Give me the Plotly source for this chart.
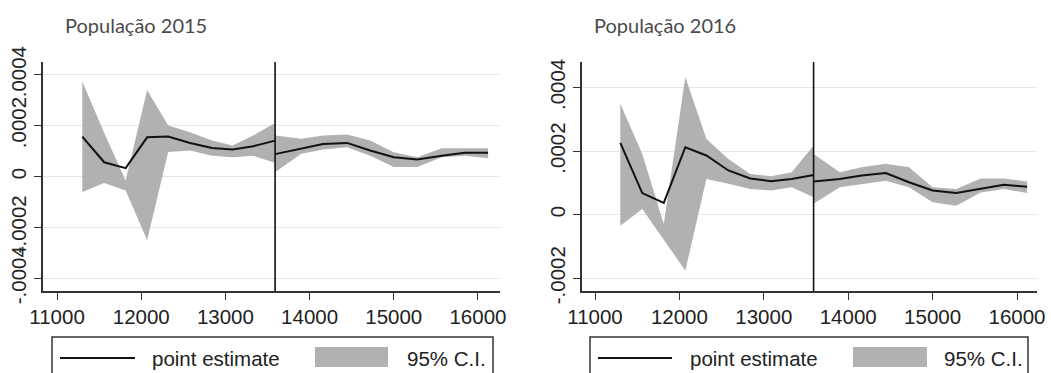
import plotly.graph_objects as go

# Running variable grid (bin midpoints) on each side of the cutoff
CUTOFF = 13590
x_left = [11300, 11560, 11815, 12070, 12320, 12580, 12840, 13085, 13330, 13590]
x_right = [13590, 13900, 14160, 14445, 14720, 15000, 15280, 15570, 15845, 16120]

# População 2015
est15_left = [0.000157, 0.000056, 0.000033, 0.000154, 0.000157, 0.000132, 0.000112, 0.000106, 0.000119, 0.000141]
up15_left = [0.000373, 0.000171, -0.000016, 0.000340, 0.000200, 0.000174, 0.000141, 0.000122, 0.000161, 0.000210]
lo15_left = [-0.000061, -0.000026, -0.000055, -0.000251, 0.000096, 0.000102, 0.000082, 0.000076, 0.000082, 0.000053]
est15_right = [0.000088, 0.000111, 0.000128, 0.000132, 0.000102, 0.000076, 0.000067, 0.000082, 0.000093, 0.000093]
up15_right = [0.000161, 0.000148, 0.000161, 0.000165, 0.000141, 0.000095, 0.000076, 0.000111, 0.000111, 0.000111]
lo15_right = [0.000017, 0.000089, 0.000106, 0.000115, 0.000082, 0.000037, 0.000037, 0.000076, 0.000082, 0.000072]

# População 2016
est16_left = [0.000226, 0.000068, 0.000037, 0.000212, 0.000186, 0.000139, 0.000114, 0.000105, 0.000112, 0.000125]
up16_left = [0.000349, 0.000191, -0.000029, 0.000433, 0.000238, 0.000175, 0.000128, 0.000121, 0.000133, 0.000217]
lo16_left = [-0.000035, 0.000018, -0.000080, -0.000176, 0.000112, 0.000097, 0.000081, 0.000076, 0.000086, 0.000055]
est16_right = [0.000104, 0.000112, 0.000123, 0.000131, 0.000102, 0.000076, 0.000068, 0.000081, 0.000094, 0.000088]
up16_right = [0.000191, 0.000133, 0.000149, 0.000160, 0.000149, 0.000086, 0.000081, 0.000114, 0.000114, 0.000104]
lo16_right = [0.000034, 0.000086, 0.000097, 0.000107, 0.000086, 0.000039, 0.000028, 0.000070, 0.000081, 0.000068]

x_ticks = [11000, 12000, 13000, 14000, 15000, 16000]
x_labels = ["11000", "12000", "13000", "14000", "15000", "16000"]
y_ticks_15 = [-0.0004, -0.0002, 0, 0.0002, 0.0004]
y_labels_15 = ["-.0004", "-.0002", "0", ".0002", ".0004"]
y_ticks_16 = [-0.0002, 0, 0.0002, 0.0004]
y_labels_16 = ["-.0002", "0", ".0002", ".0004"]

titles = ["População 2015", "População 2016"]
legend_labels = ["point estimate", "95% C.I."]

W, H = 1051, 373
BAND = "#b1b1b1"
LINE = "#111111"
AXIS = "#333333"
TICK_FONT = dict(family="Liberation Sans, Arial, sans-serif", size=20.5, color="#222222")


def px_x(p):
    return p / W


def px_y(p):
    return 1 - p / H


fig = go.Figure()

panels = [
    dict(xa="x", ya="y",
         segs=[(x_left, est15_left, up15_left, lo15_left), (x_right, est15_right, up15_right, lo15_right)]),
    dict(xa="x2", ya="y2",
         segs=[(x_left, est16_left, up16_left, lo16_left), (x_right, est16_right, up16_right, lo16_right)]),
]

for p in panels:
    for xs, est, up, lo in p["segs"]:
        fig.add_trace(go.Scatter(
            x=xs + xs[::-1], y=up + lo[::-1], fill="toself", fillcolor=BAND,
            line=dict(width=0, color=BAND), mode="lines", hoverinfo="skip",
            showlegend=False, xaxis=p["xa"], yaxis=p["ya"]))
        fig.add_trace(go.Scatter(
            x=xs, y=est, mode="lines", line=dict(color=LINE, width=2),
            showlegend=False, xaxis=p["xa"], yaxis=p["ya"]))

axis_common = dict(showline=True, linecolor=AXIS, linewidth=1.5, ticks="outside",
                   ticklen=7, tickwidth=1.2, tickcolor=AXIS, tickfont=TICK_FONT,
                   zeroline=False, automargin=False)

fig.update_layout(
    width=W, height=H, margin=dict(l=0, r=0, t=0, b=0),
    paper_bgcolor="white", plot_bgcolor="white", showlegend=False,
    xaxis=dict(domain=[px_x(43), px_x(500)], range=[10833, 16262], tickvals=x_ticks,
               ticktext=x_labels, showgrid=False, anchor="y", **axis_common),
    yaxis=dict(domain=[px_y(291), px_y(62)], range=[-0.00045, 0.00045], tickvals=y_ticks_15,
               ticktext=y_labels_15, tickangle=-90, showgrid=True, gridcolor="#e6e6e6",
               gridwidth=1, anchor="x", **axis_common),
    xaxis2=dict(domain=[px_x(582), px_x(1037)], range=[10846, 16237], tickvals=x_ticks,
                ticktext=x_labels, showgrid=False, anchor="y2", **axis_common),
    yaxis2=dict(domain=[px_y(291), px_y(62)], range=[-0.00024, 0.00048], tickvals=y_ticks_16,
                ticktext=y_labels_16, tickangle=-90, showgrid=True, gridcolor="#e6e6e6",
                gridwidth=1, anchor="x2", **axis_common),
)

shapes = []
annotations = []
# Cutoff lines
for xa, ya in [("x", "y"), ("x2", "y2")]:
    shapes.append(dict(type="line", xref=xa, yref=f"{ya} domain", x0=CUTOFF, x1=CUTOFF,
                       y0=0, y1=1, line=dict(color=LINE, width=1.6)))

# Panel titles
for title, tx in zip(titles, [63, 592]):
    annotations.append(dict(text=title, xref="paper", yref="paper", x=px_x(tx), y=px_y(25),
                            xanchor="left", yanchor="middle", showarrow=False,
                            font=dict(family="Lato, Open Sans, sans-serif", size=20, color="#4a4a4a")))

# Legend boxes
legend_geo = [
    dict(box=(52, 493), line=(60, 135), txt1=150, rect=(315, 388), txt2=405),
    dict(box=(590, 1028), line=(598, 672), txt1=688, rect=(853, 927), txt2=942),
]
for g in legend_geo:
    shapes.append(dict(type="rect", xref="paper", yref="paper", x0=px_x(g["box"][0]), x1=px_x(g["box"][1]),
                       y0=px_y(385), y1=px_y(337), line=dict(color=AXIS, width=1.5), fillcolor="white",
                       layer="below"))
    shapes.append(dict(type="line", xref="paper", yref="paper", x0=px_x(g["line"][0]), x1=px_x(g["line"][1]),
                       y0=px_y(358), y1=px_y(358), line=dict(color=LINE, width=2)))
    shapes.append(dict(type="rect", xref="paper", yref="paper", x0=px_x(g["rect"][0]), x1=px_x(g["rect"][1]),
                       y0=px_y(367), y1=px_y(347), line=dict(width=0), fillcolor=BAND))
    for txt, tx in [(legend_labels[0], g["txt1"]), (legend_labels[1], g["txt2"])]:
        annotations.append(dict(text=txt, xref="paper", yref="paper", x=px_x(tx), y=px_y(358),
                                xanchor="left", yanchor="middle", showarrow=False, font=TICK_FONT))

fig.update_layout(shapes=shapes, annotations=annotations)
fig.write_html("out.html")
